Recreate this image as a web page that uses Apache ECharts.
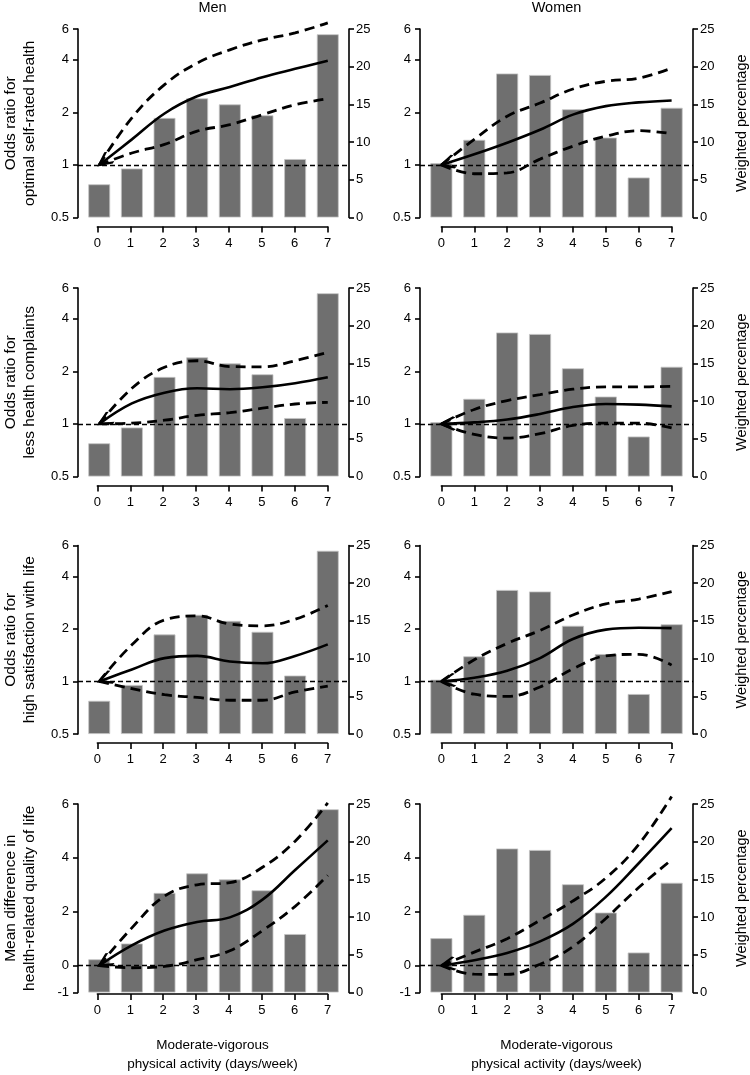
<!DOCTYPE html>
<html>
<head>
<meta charset="utf-8">
<script src="https://cdn.jsdelivr.net/npm/echarts@6/dist/echarts.min.js"></script>
<style>
html,body{margin:0;padding:0;background:#fff;}
#chart{width:750px;height:1075px;}
</style>
</head>
<body>
<div id="chart"></div>
<script>
// ---------- data ----------
const days = [0, 1, 2, 3, 4, 5, 6, 7];
const colTitles = ['Men', 'Women'];
const rowTitles = [
  'Odds ratio for\noptimal self-rated health',
  'Odds ratio for\nless health complaints',
  'Odds ratio for\nhigh satisfaction with life',
  'Mean difference in\nhealth-related quality of life'
];
const rightTitle = 'Weighted percentage';
const xTitle = 'Moderate-vigorous\nphysical activity (days/week)';
const refOR = 1;
const refMD = 0;

// weighted percentage of participants per number of active days
const menPct   = [4.4, 6.5, 13.2, 15.8, 15.0, 13.55, 7.75, 24.3];
const womenPct = [7.2, 10.3, 19.1, 18.9, 14.35, 10.6, 5.3, 14.55];

// optimal self-rated health (odds ratio)
const menHealthEst   = [1, 1.40, 1.97, 2.47, 2.79, 3.18, 3.55, 3.95];
const menHealthLo    = [1, 1.17, 1.31, 1.56, 1.70, 1.94, 2.21, 2.39];
const menHealthHi    = [1, 1.86, 2.88, 3.83, 4.56, 5.20, 5.70, 6.50];
const womenHealthEst = [1, 1.15, 1.34, 1.59, 1.94, 2.17, 2.28, 2.34];
const womenHealthLo  = [1, 0.89, 0.90, 1.08, 1.28, 1.46, 1.57, 1.51];
const womenHealthHi  = [1, 1.40, 1.90, 2.26, 2.72, 3.01, 3.14, 3.58];

// less health complaints (odds ratio)
const menComplEst   = [1, 1.31, 1.51, 1.60, 1.58, 1.62, 1.71, 1.85];
const menComplLo    = [1, 1.01, 1.05, 1.12, 1.16, 1.23, 1.30, 1.33];
const menComplHi    = [1, 1.60, 2.11, 2.30, 2.13, 2.12, 2.30, 2.57];
const womenComplEst = [1, 1.02, 1.06, 1.14, 1.25, 1.30, 1.29, 1.26];
const womenComplLo  = [1, 0.87, 0.83, 0.88, 0.98, 1.01, 1.01, 0.95];
const womenComplHi  = [1, 1.21, 1.36, 1.47, 1.58, 1.63, 1.63, 1.64];

// high satisfaction with life (odds ratio)
const menSatEst   = [1, 1.17, 1.36, 1.40, 1.30, 1.27, 1.40, 1.63];
const menSatLo    = [1, 0.91, 0.84, 0.81, 0.78, 0.78, 0.87, 0.94];
const menSatHi    = [1, 1.62, 2.25, 2.37, 2.13, 2.08, 2.27, 2.72];
const womenSatEst = [1, 1.05, 1.15, 1.36, 1.75, 1.98, 2.03, 2.02];
const womenSatLo  = [1, 0.845, 0.82, 0.93, 1.18, 1.40, 1.43, 1.24];
const womenSatHi  = [1, 1.33, 1.65, 1.96, 2.40, 2.78, 2.96, 3.27];

// health-related quality of life (mean difference)
const menQolEst   = [0, 0.75, 1.30, 1.62, 1.79, 2.45, 3.55, 4.65];
const menQolLo    = [0, -0.08, -0.03, 0.22, 0.55, 1.30, 2.20, 3.35];
const menQolHi    = [0, 1.40, 2.58, 3.00, 3.08, 3.65, 4.62, 6.04];
const womenQolEst = [0, 0.20, 0.47, 0.90, 1.55, 2.55, 3.80, 5.10];
const womenQolLo  = [0, -0.32, -0.33, 0.05, 0.70, 1.75, 2.90, 3.93];
const womenQolHi  = [0, 0.50, 1.00, 1.68, 2.40, 3.25, 4.50, 6.28];

// ---------- layout / style ----------
const FONT = 'Liberation Sans, Arial, Helvetica, sans-serif';
const COL_LEFT = [76, 420];
const GW = 273;
const ROW_TOP = [29, 288, 545.5, 804];
const GH = 188.5;
const X_GAP = 9;
const XMIN = -0.65, XMAX = 7.65;
const BAR_COLOR = '#6f6f6f';

const panels = [
  {row:0, col:0, pct:menPct,   est:menHealthEst,   lo:menHealthLo,   hi:menHealthHi,   md:false, arrow:37},
  {row:0, col:1, pct:womenPct, est:womenHealthEst, lo:womenHealthLo, hi:womenHealthHi, md:false, arrow:16},
  {row:1, col:0, pct:menPct,   est:menComplEst,    lo:menComplLo,    hi:menComplHi,    md:false, arrow:30},
  {row:1, col:1, pct:womenPct, est:womenComplEst,  lo:womenComplLo,  hi:womenComplHi,  md:false, arrow:2},
  {row:2, col:0, pct:menPct,   est:menSatEst,      lo:menSatLo,      hi:menSatHi,      md:false, arrow:22},
  {row:2, col:1, pct:womenPct, est:womenSatEst,    lo:womenSatLo,    hi:womenSatHi,    md:false, arrow:7},
  {row:3, col:0, pct:menPct,   est:menQolEst,      lo:menQolLo,      hi:menQolHi,      md:true,  arrow:32},
  {row:3, col:1, pct:womenPct, est:womenQolEst,    lo:womenQolLo,    hi:womenQolHi,    md:true,  arrow:10}
];

const ARROW = 'path://M-10,5L-10,5M10,0L0,5L10,10';
const labelStyle = {color:'#000', fontSize:13, fontFamily:FONT};
const axisLineStyle = {color:'#000', width:1.6};

const grids = [], xAxes = [], yAxes = [], series = [];

panels.forEach(p => {
  const left = COL_LEFT[p.col], top = ROW_TOP[p.row];
  const unit = GW / (XMAX - XMIN);
  const gMain = grids.length;
  grids.push({left:left, top:top, width:GW, height:GH});
  const gStrip = grids.length;
  grids.push({
    left: left + (days[0] - XMIN) * unit,
    top: top + GH + X_GAP - 10,
    width: (days[days.length - 1] - days[0]) * unit,
    height: 10
  });

  const xMain = xAxes.length;
  xAxes.push({gridIndex:gMain, type:'value', min:XMIN, max:XMAX, show:false,
    axisLine:{onZero:false}});
  xAxes.push({
    gridIndex:gStrip, type:'value', min:days[0], max:days[days.length-1], interval:1,
    position:'bottom',
    axisLine:{show:true, onZero:false, lineStyle:axisLineStyle},
    axisTick:{show:true, length:6, lineStyle:axisLineStyle},
    axisLabel:Object.assign({margin:10}, labelStyle),
    splitLine:{show:false},
    name: p.row === 3 ? xTitle : '',
    nameLocation:'middle', nameGap:42,
    nameTextStyle:{color:'#000', fontSize:13.5, lineHeight:19, fontFamily:FONT}
  });

  const yLeft = yAxes.length;
  const leftBase = {
    gridIndex:gMain, position:'left',
    axisLine:{show:true, onZero:false, lineStyle:axisLineStyle},
    axisTick:{show:true, length:5, lineStyle:axisLineStyle},
    axisLabel:Object.assign({margin:9}, labelStyle),
    splitLine:{show:false},
    name: p.col === 0 ? rowTitles[p.row] : '',
    nameLocation:'middle', nameRotate:90, nameGap:39,
    nameTextStyle:{color:'#000', fontSize:15.5, lineHeight:19, fontFamily:FONT}
  };
  if (p.md) {
    yAxes.push(Object.assign(leftBase, {type:'value', min:-1, max:6, splitNumber:3}));
  } else {
    yAxes.push(Object.assign(leftBase, {type:'log', logBase:2, min:0.5, max:6}));
  }
  const yRight = yAxes.length;
  yAxes.push({
    gridIndex:gMain, type:'value', position:'right', min:0, max:25, interval:5,
    axisLine:{show:true, onZero:false, lineStyle:axisLineStyle},
    axisTick:{show:true, length:5, lineStyle:axisLineStyle},
    axisLabel:Object.assign({margin:7}, labelStyle),
    splitLine:{show:false},
    name: p.col === 1 ? rightTitle : '',
    nameLocation:'middle', nameRotate:90, nameGap:41,
    nameTextStyle:{color:'#000', fontSize:14.5, fontFamily:FONT}
  });
  yAxes.push({gridIndex:gStrip, type:'value', min:0, max:1, show:false});

  series.push({
    type:'bar', xAxisIndex:xMain, yAxisIndex:yRight,
    data: days.map((d, i) => [d, p.pct[i]]),
    barWidth:'67%',
    itemStyle:{color:BAR_COLOR, borderColor:'#c4c4c4', borderWidth:0.8},
    silent:true, z:1
  });
  const dashStyle = {color:'#000', width:2.8, type:[10,6], cap:'butt'};
  [p.lo, p.hi].forEach(arr => {
    series.push({
      type:'line', xAxisIndex:xMain, yAxisIndex:yLeft, smooth:0.4, clip:false,
      symbol:'none', lineStyle:dashStyle, silent:true, z:3,
      data: days.map((d, i) => [d, arr[i]])
    });
  });
  series.push({
    type:'line', xAxisIndex:xMain, yAxisIndex:yLeft, smooth:0.4, clip:false,
    symbol:'none', showSymbol:true, silent:true, z:4,
    lineStyle:{color:'#000', width:2.6},
    data: days.map((d, i) => i === 0 ? {
      value:[d, p.est[i]], symbol:ARROW, symbolSize:[26, 13], symbolRotate:p.arrow,
      itemStyle:{color:'none', borderColor:'#000', borderWidth:2.6}
    } : {value:[d, p.est[i]], symbol:'none'}),
    markLine:{
      silent:true, symbol:['none','none'], label:{show:false},
      lineStyle:{color:'#000', width:1.3, type:[5,3]},
      data:[{yAxis: p.md ? refMD : refOR}]
    }
  });
});

const graphic = colTitles.map((t, c) => ({
  type:'text',
  x: COL_LEFT[c] + GW / 2, y: 8,
  style:{text:t, fill:'#000', font:'14.5px ' + FONT, textAlign:'center', textVerticalAlign:'middle'}
}));

const chart = echarts.init(document.getElementById('chart'), null, {renderer:'canvas'});
chart.setOption({
  animation:false,
  backgroundColor:'#fff',
  textStyle:{fontFamily:FONT},
  grid:grids, xAxis:xAxes, yAxis:yAxes, series:series, graphic:graphic
});
</script>
</body>
</html>
